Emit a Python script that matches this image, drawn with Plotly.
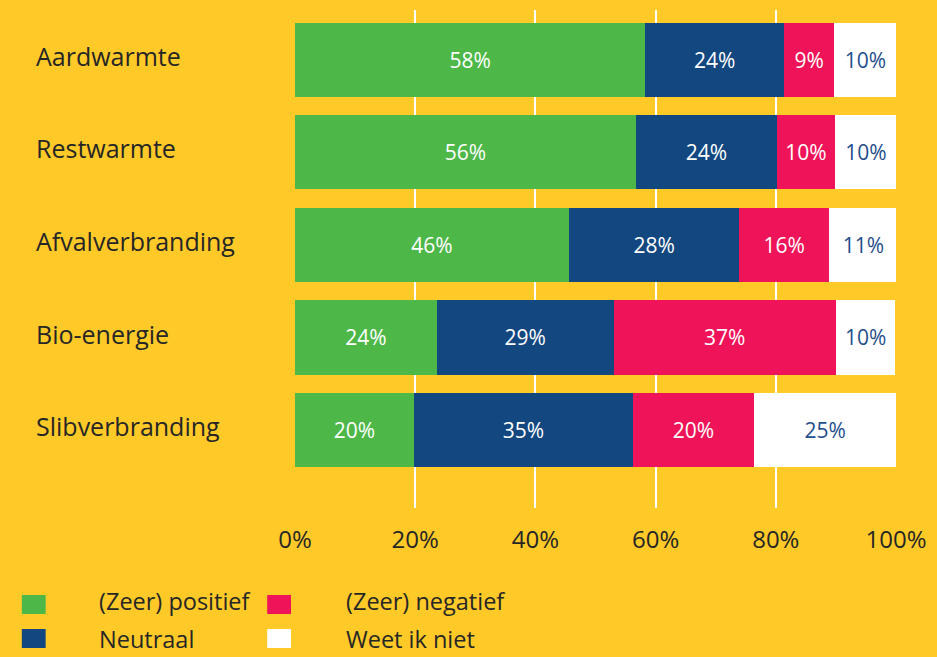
"""Houding tegenover warmtebronnen - gestapelde staafgrafiek"""
import plotly.graph_objects as go

categories = ['Aardwarmte', 'Restwarmte', 'Afvalverbranding', 'Bio-energie', 'Slibverbranding']
series_names = ['(Zeer) positief', 'Neutraal', '(Zeer) negatief', 'Weet ik niet']

# bar lengths (share of the bar, %)
positief = [58.3, 56.7, 45.6, 23.6, 19.8]
neutraal = [23.1, 23.5, 28.3, 29.4, 36.4]
negatief = [8.3, 9.6, 15.0, 37.0, 20.2]
weet_niet = [10.4, 10.4, 11.4, 9.9, 23.6]

# printed labels
positief_lbl = [58, 56, 46, 24, 20]
neutraal_lbl = [24, 24, 28, 29, 35]
negatief_lbl = [9, 10, 16, 37, 20]
weet_niet_lbl = [10, 10, 11, 10, 25]

x_ticks = [0, 20, 40, 60, 80, 100]
x_tick_labels = ['0%', '20%', '40%', '60%', '80%', '100%']

BG = '#FFCA28'
COLORS = ['#4DB848', '#134780', '#EF1459', '#FFFFFF']
TEXT_COLORS = ['white', 'white', 'white', '#1F4E8C']
DARK = '#262626'
FONT = 'Open Sans'

W, H = 937, 657
L, R, T, B = 295, 37, 10, 149


def px_x(px):
    return (px - L) / (W - L - R)


def px_y(py):
    return (H - B - py) / (H - B - T)


fig = go.Figure()

all_values = [positief, neutraal, negatief, weet_niet]
all_labels = [positief_lbl, neutraal_lbl, negatief_lbl, weet_niet_lbl]

for name, vals, lbls, col, tcol in zip(series_names, all_values, all_labels, COLORS, TEXT_COLORS):
    fig.add_trace(go.Bar(
        y=categories,
        x=vals,
        name=name,
        orientation='h',
        marker=dict(color=col, line=dict(width=0)),
        width=0.8,
        text=[f'{v}%' for v in lbls],
        textposition='inside',
        insidetextanchor='middle',
        constraintext='none',
        textfont=dict(family=FONT, size=21, color=tcol),
        showlegend=False,
    ))

# category names, left aligned
for cat in categories:
    fig.add_annotation(
        x=px_x(32), xref='paper', xanchor='left',
        y=cat, yref='y', yshift=4,
        text=cat, showarrow=False,
        font=dict(family=FONT, size=25, color=DARK),
    )

# legend built by hand: square far left, text further right
legend_pos = [(20, 96, 595), (20, 96, 629), (267, 344, 595), (267, 344, 629)]
for (sx, tx, sy), name, col in zip(legend_pos, series_names, COLORS):
    fig.add_shape(
        type='rect', xref='paper', yref='paper',
        x0=px_x(sx), x1=px_x(sx + 24), y0=px_y(sy + 19), y1=px_y(sy),
        fillcolor=col, line=dict(width=0),
    )
    fig.add_annotation(
        x=px_x(tx), xref='paper', xanchor='left',
        y=px_y(sy + 6 if sy < 600 else sy + 10), yref='paper', yanchor='middle',
        text=name, showarrow=False,
        font=dict(family=FONT, size=23.5, color=DARK),
    )

fig.update_layout(
    barmode='stack',
    plot_bgcolor=BG,
    paper_bgcolor=BG,
    width=W, height=H,
    margin=dict(l=L, r=R, t=T, b=B),
    font=dict(family=FONT, color=DARK),
    xaxis=dict(
        range=[0, 100],
        tickvals=x_ticks,
        ticktext=x_tick_labels,
        showgrid=True,
        gridcolor='white',
        gridwidth=2,
        zeroline=False,
        showline=False,
        layer='above traces',
        ticks='outside',
        ticklen=10,
        tickcolor='rgba(0,0,0,0)',
        tickfont=dict(family=FONT, size=24, color=DARK),
    ),
    yaxis=dict(
        categoryorder='array',
        categoryarray=categories,
        range=[4.843, -0.54],
        showticklabels=False,
        showgrid=False,
        zeroline=False,
    ),
)

fig.write_html('out.html', config={'displayModeBar': False},
               post_script="document.body.style.margin='0';")
